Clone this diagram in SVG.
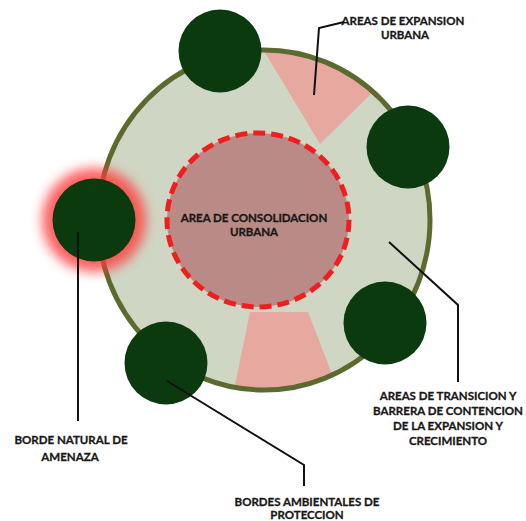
<svg xmlns="http://www.w3.org/2000/svg" width="526" height="521" viewBox="0 0 526 521">
<style>
.lbl{font-family:"Lato","Liberation Sans",sans-serif;font-weight:bold;font-size:11.5px;fill:#1a1717;stroke:#1a1717;stroke-width:0.3;text-anchor:middle}
.tree{fill:#0c3a0f}
.con{fill:none;stroke:#111;stroke-width:2}
</style>
<defs>
<clipPath id="ring"><ellipse cx="264" cy="220" rx="166" ry="170"/></clipPath>
<filter id="glow" x="-50%" y="-50%" width="200%" height="200%"><feGaussianBlur stdDeviation="6"/></filter>
</defs>
<rect width="526" height="521" fill="#ffffff"/>
<g id="transition-ring">
<ellipse cx="264" cy="220" rx="166" ry="170" fill="#cfd7c4"/>
<g clip-path="url(#ring)" fill="#e7a89f">
<polygon points="252,31 320,144 382,83"/>
<polygon points="250,312 308,312 342,400 232,400"/>
</g>
<ellipse cx="264" cy="220" rx="166" ry="170" fill="none" stroke="#5b6a2e" stroke-width="5"/>
</g>
<g id="consolidation">
<ellipse cx="258" cy="220" rx="91" ry="87" fill="#b98a86" stroke="#f01e1e" stroke-width="5" stroke-dasharray="12,6"/>
<text class="lbl" x="254" y="222">AREA DE CONSOLIDACION</text>
<text class="lbl" x="254" y="236">URBANA</text>
</g>
<g id="border-threat">
<circle cx="94" cy="220" r="52" fill="#ff3a3a" opacity="0.8" filter="url(#glow)"/>
<circle class="tree" cx="94" cy="220" r="41.5"/>
</g>
<g id="border-top"><circle class="tree" cx="220" cy="51" r="41.5"/></g>
<g id="border-right-upper"><circle class="tree" cx="408" cy="147" r="41.5"/></g>
<g id="border-right-lower"><circle class="tree" cx="385" cy="323" r="41.5"/></g>
<g id="border-bottom-left"><circle class="tree" cx="166" cy="363" r="41.5"/></g>
<g id="connectors">
<polyline class="con" points="314,95 319,28 344,22"/>
<polyline class="con" points="389,242 458,305 458,382"/>
<polyline class="con" points="78,232 78,421"/>
<polyline class="con" points="167,381 304,465 304,486"/>
</g>
<g id="labels">
<text class="lbl" x="403" y="25">AREAS DE EXPANSION</text>
<text class="lbl" x="405" y="39">URBANA</text>
<text class="lbl" x="448" y="400">AREAS DE TRANSICION Y</text>
<text class="lbl" x="448" y="415">BARRERA DE CONTENCION</text>
<text class="lbl" x="448" y="430">DE LA EXPANSION Y</text>
<text class="lbl" x="448" y="445">CRECIMIENTO</text>
<text class="lbl" x="71" y="444">BORDE NATURAL DE</text>
<text class="lbl" x="70" y="461">AMENAZA</text>
<text class="lbl" x="307" y="506">BORDES AMBIENTALES DE</text>
<text class="lbl" x="307" y="519">PROTECCION</text>
</g>
</svg>
